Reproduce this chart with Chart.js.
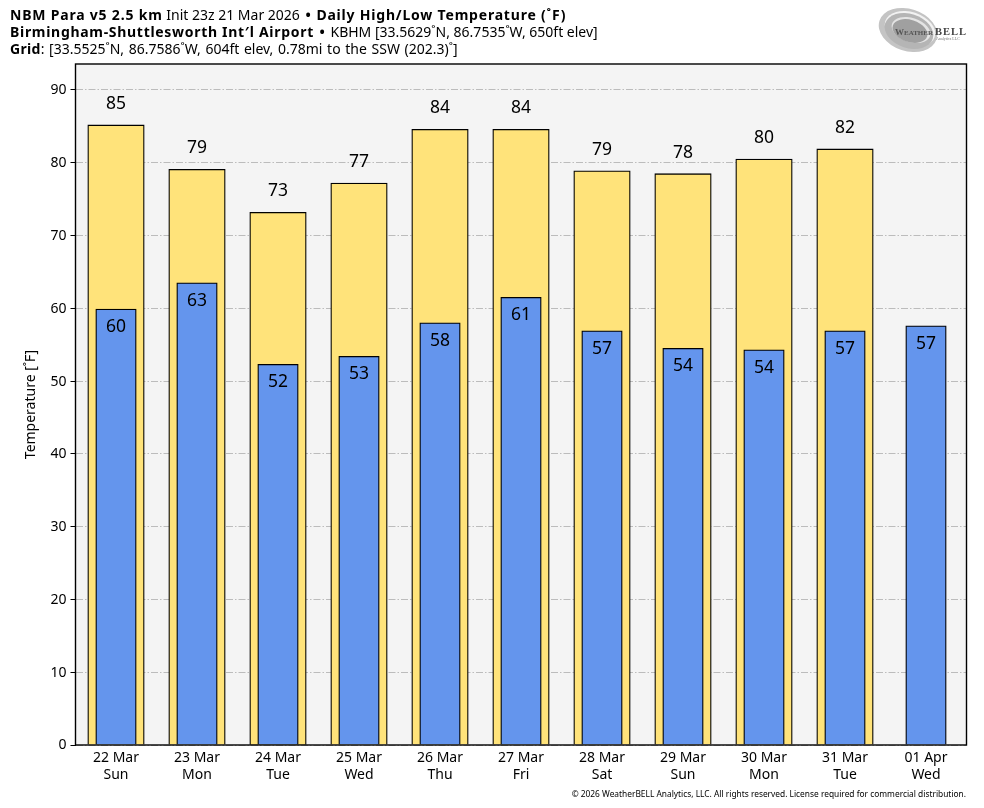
<!DOCTYPE html>
<html>
<head>
<meta charset="utf-8">
<script src="https://cdn.jsdelivr.net/npm/chart.js@4"></script>
<style>
    html, body { margin: 0; padding: 0; background: #fff; }
    #wrap { position: relative; width: 984px; height: 808px; overflow: hidden; font-family: "Noto Sans", sans-serif; color: #000; }
    #chart { position: absolute; left: 0; top: 0; }
    .head { position: absolute; left: 10px; font-size: 14px; line-height: 17px; white-space: nowrap; }
    .head b { font-size: 14px; font-weight: 700; letter-spacing: 0.8px; }
    .dot { margin: 0 2px; font-weight: 700; }
    #foot { position: absolute; right: 18px; top: 788px; font-size: 8.37px; line-height: 12px; white-space: nowrap; }
    #logo { position: absolute; left: 878px; top: 6px; }
</style>
</head>
<body>
<div id="wrap">
    <canvas id="chart" width="984" height="808"></canvas>
    <div class="head" style="top:6px"><b>NBM Para v5 2.5 km</b> Init 23z 21 Mar 2026 <span class="dot">&bull;</span> <b>Daily High/Low Temperature (˚F)</b></div>
    <div class="head" style="top:23px"><b style="letter-spacing:0.7px">Birmingham-Shuttlesworth Int′l Airport</b> <span class="dot">&bull;</span> KBHM [33.5629˚N, 86.7535˚W, 650ft elev]</div>
    <div class="head" style="top:40px;word-spacing:1px"><b style="letter-spacing:0.3px">Grid</b>: [33.5525˚N, 86.7586˚W, 604ft elev, 0.78mi to the SSW (202.3)˚]</div>
    <svg id="logo" width="92" height="50" viewBox="0 0 92 50">
        <defs><filter id="soft"><feGaussianBlur stdDeviation="0.45"/></filter></defs>
        <g filter="url(#soft)">
            <ellipse cx="30" cy="24" rx="30" ry="21" transform="rotate(18 30 24)" fill="#c4c4c4"/>
            <ellipse cx="32" cy="23" rx="26" ry="17" transform="rotate(18 32 23)" fill="#f2f2f2"/>
            <ellipse cx="31" cy="25" rx="25" ry="17" transform="rotate(18 31 25)" fill="#b5b5b5"/>
            <ellipse cx="33" cy="24" rx="20" ry="12" transform="rotate(18 33 24)" fill="#e4e4e4"/>
            <ellipse cx="32" cy="25" rx="18" ry="11" transform="rotate(18 32 25)" fill="#a0a0a0"/>
            <text x="17" y="29" font-family="Liberation Serif" font-size="9" font-weight="700" fill="#555">W<tspan font-size="7">EATHER</tspan></text>
            <text x="57" y="29" font-family="Liberation Serif" font-size="10.5" font-weight="700" letter-spacing="1" fill="#444">BELL</text>
            <text x="58" y="34" font-family="Liberation Serif" font-size="4" fill="#777">Analytics LLC</text>
        </g>
    </svg>
    <div id="foot">© 2026 WeatherBELL Analytics, LLC. All rights reserved. License required for commercial distribution.</div>
</div>
<script>
// --- Chart data ---
const dayLabels = ['22 Mar', '23 Mar', '24 Mar', '25 Mar', '26 Mar', '27 Mar', '28 Mar', '29 Mar', '30 Mar', '31 Mar', '01 Apr'];
const weekdays = ['Sun', 'Mon', 'Tue', 'Wed', 'Thu', 'Fri', 'Sat', 'Sun', 'Mon', 'Tue', 'Wed'];
const highValues = [85.2, 79.1, 73.2, 77.2, 84.6, 84.6, 78.9, 78.5, 80.5, 81.9, null];
const lowValues = [59.9, 63.5, 52.3, 53.4, 58.0, 61.5, 56.9, 54.5, 54.3, 56.9, 57.6];
const highLabels = ['85', '79', '73', '77', '84', '84', '79', '78', '80', '82', ''];
const lowLabels = ['60', '63', '52', '53', '58', '61', '57', '54', '54', '57', '57'];

const FONT = '"Noto Sans", sans-serif';

// grey panel behind the grid, black frame on top of the bars
const framePlugin = {
    id: 'frame',
    beforeDraw(chart) {
        const a = chart.chartArea;
        chart.ctx.fillStyle = '#f4f4f4';
        chart.ctx.fillRect(a.left, a.top, a.width, a.height);
    },
    afterDraw(chart) {
        const a = chart.chartArea;
        const ctx = chart.ctx;
        ctx.save();
        ctx.strokeStyle = '#000';
        ctx.lineWidth = 1.4;
        ctx.strokeRect(a.left, a.top, a.width, a.height);
        ctx.restore();
    }
};

// value labels above the highs and inside the lows
const valueLabels = {
    id: 'valueLabels',
    afterDatasetsDraw(chart) {
        const ctx = chart.ctx;
        ctx.save();
        ctx.fillStyle = '#000';
        ctx.font = '17.5px ' + FONT;
        ctx.textAlign = 'center';
        ctx.textBaseline = 'middle';
        chart.getDatasetMeta(1).data.forEach((bar, i) => {
            if (highLabels[i]) ctx.fillText(highLabels[i], bar.x, bar.y - 21);
        });
        chart.getDatasetMeta(0).data.forEach((bar, i) => {
            ctx.fillText(lowLabels[i], bar.x, bar.y + 18);
        });
        ctx.restore();
    }
};

new Chart(document.getElementById('chart'), {
    type: 'bar',
    data: {
        labels: dayLabels.map((d, i) => [d, weekdays[i]]),
        datasets: [
            { label: 'Low', data: lowValues, backgroundColor: '#6495ed', borderColor: '#000', borderWidth: 1.3, barThickness: 40.5, order: 1 },
            { label: 'High', data: highValues, backgroundColor: '#ffe37a', borderColor: '#000', borderWidth: 1.3, barThickness: 56.5, order: 2 }
        ]
    },
    plugins: [framePlugin, valueLabels],
    options: {
        responsive: false,
        animation: false,
        layout: { padding: { top: 64, right: 17.5, left: 0, bottom: 0 } },
        plugins: { legend: { display: false }, title: { display: false }, tooltip: { enabled: false } },
        scales: {
            x: {
                stacked: true,
                afterFit(scale) { scale.height = 63; },
                grid: { display: false },
                border: { display: false },
                ticks: { color: '#000', font: { family: FONT, size: 14, lineHeight: 1.2 }, maxRotation: 0, autoSkip: false, padding: -3 }
            },
            y: {
                stacked: false,
                min: 0,
                max: 93.57,
                afterFit(scale) { scale.width = 75.5; },
                grid: { color: '#bcbcbc', lineWidth: 1, tickColor: '#000', tickLength: 5, tickBorderDash: [] },
                border: { display: false, dash: [7, 2, 1.5, 2] },
                ticks: { stepSize: 10, includeBounds: false, color: '#000', font: { family: FONT, size: 14 }, padding: 4, labelOffset: 0.5 },
                title: { display: true, text: 'Temperature [˚F]', color: '#000', font: { family: FONT, size: 14 }, padding: { top: 23, bottom: 0 } }
            }
        }
    }
});
</script>
</body>
</html>
